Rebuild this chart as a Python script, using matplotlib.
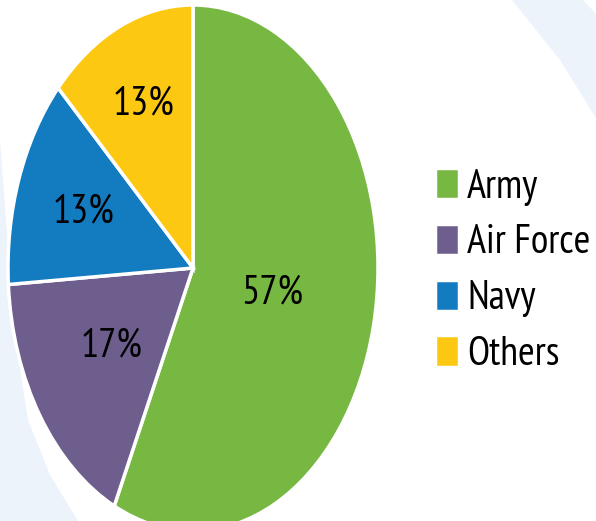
import numpy as np
import matplotlib
matplotlib.use("Agg")
import matplotlib.pyplot as plt
from matplotlib.patches import Polygon

# data
branches = ["Army", "Air Force", "Navy", "Others"]
shares = [57, 17, 13, 13]
colors = ["#77b843", "#6e5e8e", "#137bbf", "#fcc812"]

# radial spot of each percent label (fraction of radius)
pct_dist = [0.44, 0.53, 0.63, 0.68]

W, H = 596, 521
fam = ["PT Sans Narrow", "DejaVu Sans"]
fsize = 29

fig = plt.figure(figsize=(W / 100, H / 100), dpi=100)

# light blue decoration in the background, pixel coords
bg = fig.add_axes([0, 0, 1, 1])
bg.set_xlim(0, W)
bg.set_ylim(H, 0)
bg.axis("off")
light = "#edf3fb"
bg.add_patch(Polygon([(0, 140), (6, 220), (14, 330), (28, 420), (50, 475), (78, 521), (0, 521)],
                     closed=True, fc=light, ec="none"))
bg.add_patch(Polygon([(512, 0), (583, 0), (596, 14), (596, 118), (560, 60)],
                     closed=True, fc=light, ec="none"))

# pie axes, stretched so the pie becomes an ellipse
cx, cy, rx, ry = 193, 268, 185, 263
ax = fig.add_axes([(cx - rx) / W, (H - cy - ry) / H, 2 * rx / W, 2 * ry / H])
wedges, texts, autotexts = ax.pie(
    shares, colors=colors, startangle=90, counterclock=False,
    autopct="%d%%", wedgeprops=dict(edgecolor="white", linewidth=2.5),
    textprops=dict(fontsize=fsize, family=fam, color="black"))
ax.set_aspect("auto")
ax.set_xlim(-1, 1)
ax.set_ylim(-1, 1)

for w, t, d in zip(wedges, autotexts, pct_dist):
    ang = np.deg2rad((w.theta1 + w.theta2) / 2)
    t.set_position((d * np.cos(ang), d * np.sin(ang)))
    t.set_ha("center")
    t.set_va("center")

fig.legend(wedges, branches, loc="upper left", bbox_to_anchor=(435 / W, 1 - 168 / H),
           frameon=False, prop=dict(family=fam, size=fsize),
           handlelength=0.6, handleheight=0.82, handletextpad=0.2,
           labelspacing=0.45, borderpad=0, borderaxespad=0)

fig.savefig("out.png", dpi=100, facecolor="white")
